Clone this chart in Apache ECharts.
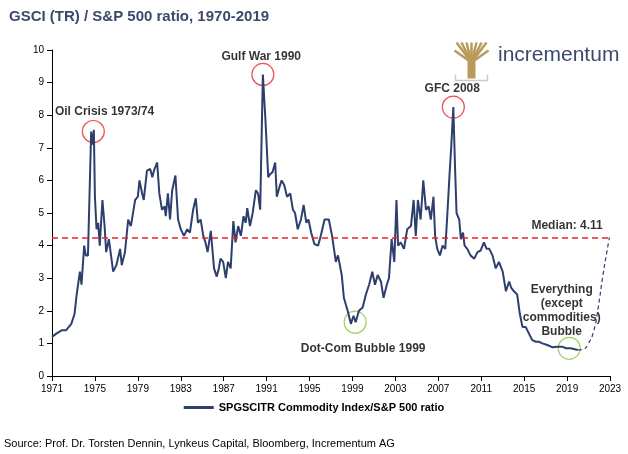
<!DOCTYPE html>
<html lang="en">
<head>
<meta charset="UTF-8" />
<title>GSCI (TR) / S&P 500 ratio</title>
<script src="https://cdn.jsdelivr.net/npm/echarts@6/dist/echarts.min.js"></script>
<style>
  * { margin: 0; padding: 0; }
  #chart { width: 628px; height: 454px; background: #fff; }
</style>
</head>
<body>
<div id="chart"></div>
<script>
// [year, ratio]
var ratio = [
  [1971.0,1.2],[1971.4,1.3],[1971.9,1.4],[1972.3,1.4],[1972.8,1.6],[1973.1,1.9],[1973.3,2.5],
  [1973.6,3.2],[1973.75,2.8],[1974.0,4.0],[1974.15,3.7],[1974.35,3.7],[1974.5,5.6],[1974.65,7.5],
  [1974.8,7.1],[1974.9,7.55],[1975.0,5.5],[1975.15,4.5],[1975.3,4.7],[1975.45,4.0],[1975.7,5.4],
  [1975.9,4.6],[1976.05,3.8],[1976.3,4.2],[1976.7,3.2],[1977.0,3.4],[1977.35,3.9],[1977.5,3.4],
  [1977.8,3.8],[1978.1,4.8],[1978.35,4.6],[1978.5,4.6],[1978.75,5.4],[1979.0,5.5],[1979.15,6.0],
  [1979.4,5.6],[1979.55,5.4],[1979.85,6.3],[1980.15,6.35],[1980.35,6.1],[1980.5,6.3],[1980.8,6.55],
  [1981.0,5.6],[1981.25,5.1],[1981.5,5.2],[1981.6,4.9],[1981.8,5.6],[1982.0,4.8],[1982.2,5.7],
  [1982.5,6.15],[1982.75,4.8],[1983.0,4.5],[1983.3,4.3],[1983.6,4.5],[1983.85,4.4],[1984.15,5.1],
  [1984.4,5.45],[1984.6,4.7],[1984.85,4.8],[1985.1,4.3],[1985.3,4.1],[1985.5,3.8],[1985.8,4.45],
  [1986.1,3.3],[1986.35,3.05],[1986.55,3.3],[1986.7,3.6],[1986.95,3.5],[1987.2,3.0],[1987.4,3.5],
  [1987.65,3.3],[1987.9,4.75],[1988.1,4.1],[1988.35,4.6],[1988.6,4.3],[1988.85,4.9],[1989.05,4.7],
  [1989.2,5.15],[1989.45,4.6],[1989.7,5.0],[1990.0,5.7],[1990.2,5.6],[1990.4,5.1],[1990.65,9.25],
  [1990.9,7.8],[1991.15,6.1],[1991.35,6.2],[1991.55,6.25],[1991.8,6.55],[1991.95,5.5],[1992.2,5.8],
  [1992.4,6.0],[1992.65,5.85],[1992.9,5.5],[1993.2,5.6],[1993.45,5.1],[1993.65,5.0],[1993.9,4.5],
  [1994.2,4.8],[1994.45,5.25],[1994.7,4.7],[1994.9,4.8],[1995.15,4.4],[1995.45,4.05],[1995.8,4.0],
  [1996.05,4.3],[1996.4,4.8],[1996.8,4.8],[1997.1,4.3],[1997.45,3.5],[1997.65,3.7],[1998.0,3.1],
  [1998.2,2.4],[1998.55,2.0],[1998.85,1.6],[1999.1,1.85],[1999.3,1.65],[1999.6,2.0],[1999.95,2.1],
  [2000.25,2.5],[2000.55,2.8],[2000.85,3.2],[2001.1,2.8],[2001.35,3.1],[2001.65,2.9],[2001.9,2.4],
  [2002.2,2.8],[2002.4,3.0],[2002.65,4.2],[2002.9,3.5],[2003.1,5.4],[2003.25,4.0],[2003.5,4.1],
  [2003.8,3.9],[2004.1,4.5],[2004.45,4.6],[2004.7,5.4],[2004.9,4.3],[2005.1,5.4],[2005.35,4.8],
  [2005.6,6.0],[2005.85,5.1],[2006.1,5.2],[2006.3,4.8],[2006.55,5.5],[2006.7,4.3],[2006.9,3.9],
  [2007.15,3.7],[2007.4,4.0],[2007.65,3.9],[2007.85,5.0],[2008.05,6.2],[2008.2,7.0],[2008.4,8.25],
  [2008.55,6.5],[2008.7,5.0],[2008.95,4.8],[2009.1,4.2],[2009.3,4.4],[2009.45,4.0],[2009.7,3.9],
  [2010.0,3.7],[2010.35,3.6],[2010.65,3.8],[2010.95,3.85],[2011.25,4.1],[2011.5,3.9],[2011.75,3.9],
  [2012.05,3.7],[2012.35,3.3],[2012.65,3.5],[2013.0,3.2],[2013.3,2.6],[2013.6,2.9],[2013.8,2.7],
  [2014.05,2.6],[2014.35,2.5],[2014.6,1.9],[2014.85,1.5],[2015.15,1.5],[2015.45,1.3],[2015.75,1.1],
  [2016.1,1.05],[2016.4,1.05],[2016.7,1.0],[2017.15,0.95],[2017.65,0.88],[2018.1,0.9],[2018.55,0.9],
  [2018.9,0.85],[2019.35,0.85],[2020.0,0.8]
];
// hand-drawn style projection
var projection = [
  [2020.0,0.8],[2020.5,0.82],[2021.0,1.0],[2021.5,1.4],[2021.9,2.1],[2022.3,3.0],[2022.7,3.8],[2022.95,4.25]
];
var medianLine = 4.25;
var medianLabel = 'Median: 4.11';
var redCircles = [[1974.85,7.5],[1990.65,9.25],[2008.4,8.25]];
var greenCircles = [[1999.25,1.65],[2019.2,0.85]];
var notes = [
  { pos: [1975.9,8.1], text: 'Oil Crisis 1973/74' },
  { pos: [1990.5,9.8], text: 'Gulf War 1990' },
  { pos: [2008.3,8.8], text: 'GFC 2008' },
  { pos: [2000.0,0.85], text: 'Dot-Com Bubble 1999' },
  { pos: [2018.5,2.0], text: 'Everything\n(except\ncommodities)\nBubble' },
  { pos: [2019.0,4.6], text: medianLabel }
];
var xTicks = { min: 1971, max: 2023, interval: 4 };
var yTicks = { min: 0, max: 10, interval: 1 };
var seriesName = 'SPGSCITR Commodity Index/S&P 500 ratio';

var navy = '#2e3f6e';
var gold = '#b89a5c';
var chart = echarts.init(document.getElementById('chart'));
var noteStyle = { fontFamily: 'Liberation Sans', fontWeight: 'bold', fontSize: 12, color: '#000', lineHeight: 14 };

// tree logo branches
var branches = [[2,0],[7,0],[12,0],[17,0],[22,0],[27,0],[32,0],[0,8],[34,8]].map(function (p) {
  return { type: 'polyline', shape: { points: [[17,20], p] }, style: { stroke: gold, lineWidth: 2.5 } };
});

chart.setOption({
  animation: false,
  textStyle: { fontFamily: 'Liberation Sans' },
  title: {
    text: 'GSCI (TR) / S&P 500 ratio, 1970-2019',
    left: 4, top: 4,
    textStyle: { fontSize: 15, fontWeight: 'bold', color: '#3b4a6b', fontFamily: 'Liberation Sans' }
  },
  grid: { left: 52, right: 18, top: 50, bottom: 78 },
  legend: {
    bottom: 36, left: 'center', itemWidth: 30, itemHeight: 3,
    data: [{ name: seriesName, icon: 'rect' }],
    textStyle: { fontSize: 11, fontWeight: 'bold', color: '#000' }
  },
  xAxis: {
    type: 'value', min: xTicks.min, max: xTicks.max, interval: xTicks.interval,
    splitLine: { show: false },
    axisLine: { lineStyle: { color: '#000' } },
    axisTick: { show: true, lineStyle: { color: '#000' } },
    axisLabel: { color: '#000', fontSize: 10, formatter: function (v) { return v; } }
  },
  yAxis: {
    type: 'value', min: yTicks.min, max: yTicks.max, interval: yTicks.interval,
    splitLine: { show: false },
    axisLine: { show: true, lineStyle: { color: '#000' } },
    axisTick: { show: true, lineStyle: { color: '#000' } },
    axisLabel: { color: '#000', fontSize: 10 }
  },
  series: [
    {
      name: seriesName, type: 'line', data: ratio, showSymbol: false,
      lineStyle: { color: navy, width: 2 }, itemStyle: { color: navy },
      markLine: {
        silent: true, symbol: 'none', label: { show: false },
        lineStyle: { color: '#e8262a', type: [6, 4], width: 1.5 },
        data: [[{ coord: [1971, medianLine] }, { coord: [2023, medianLine] }]]
      }
    },
    {
      name: 'projection', type: 'line', data: projection, showSymbol: false, smooth: true,
      lineStyle: { color: navy, width: 1.2, type: [4, 3] }
    },
    {
      name: 'red', type: 'scatter', data: redCircles, symbolSize: 22, silent: true,
      itemStyle: { color: 'rgba(0,0,0,0)', borderColor: '#e8262a', borderWidth: 1.2 }
    },
    {
      name: 'green', type: 'scatter', data: greenCircles, symbolSize: 22, silent: true,
      itemStyle: { color: 'rgba(0,0,0,0)', borderColor: '#8dc63f', borderWidth: 1.2 }
    },
    {
      name: 'notes', type: 'scatter', symbolSize: 0, silent: true,
      data: notes.map(function (n) { return { value: n.pos, label: { formatter: n.text } }; }),
      label: Object.assign({ show: true, position: 'inside', align: 'center' }, noteStyle)
    }
  ],
  graphic: [
    {
      type: 'group', left: 452, top: 40,
      children: branches.concat([
        { type: 'rect', shape: { x: 13, y: 16, width: 8, height: 20 }, style: { fill: gold } },
        { type: 'polyline', shape: { points: [[1,32],[1,38],[33,38],[33,32]] }, style: { stroke: '#ccc', fill: null, lineWidth: 1.5 } }
      ])
    },
    {
      type: 'text', left: 498, top: 45,
      style: { text: 'incrementum', fontSize: 21, fill: '#3b4a6b', fontFamily: 'Liberation Sans' }
    },
    {
      type: 'text', left: 4, top: 438,
      style: { text: 'Source: Prof. Dr. Torsten Dennin, Lynkeus Capital, Bloomberg, Incrementum AG', fontSize: 11, fill: '#000', fontFamily: 'Liberation Sans' }
    }
  ]
});
</script>
</body>
</html>
